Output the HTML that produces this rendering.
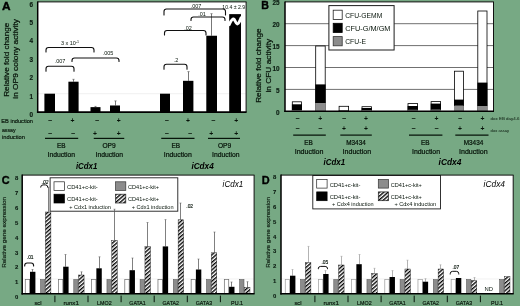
<!DOCTYPE html>
<html><head><meta charset="utf-8"><title>Figure</title>
<style>html,body{margin:0;padding:0;background:#77a984;}body{width:520px;height:306px;overflow:hidden;font-family:"Liberation Sans", sans-serif;}</style>
</head><body>
<svg width="520" height="306" viewBox="0 0 520 306" font-family='"Liberation Sans", sans-serif' style="display:block;filter:blur(0.3px)">
<rect x="0" y="0" width="520" height="306" fill="#77a984"/>
<rect x="37.70" y="1.90" width="208.40" height="110.20" fill="#fff"/>
<line x1="37.70" y1="93.70" x2="246.10" y2="93.70" stroke="#e2e2e2" stroke-width="0.5"/>
<text x="1.90" y="9.60" font-size="10.8" font-weight="bold" font-style="normal" text-anchor="start" fill="#000" textLength="8.60" lengthAdjust="spacingAndGlyphs" stroke="#000" stroke-width="0.35">A</text>
<text x="31.20" y="117.00" font-size="6.4" font-weight="bold" font-style="normal" text-anchor="middle" fill="#0c1c12" stroke="#0c1c12" stroke-width="0.15">0</text>
<text x="31.20" y="98.60" font-size="6.4" font-weight="bold" font-style="normal" text-anchor="middle" fill="#0c1c12" stroke="#0c1c12" stroke-width="0.15">1</text>
<text x="31.20" y="80.20" font-size="6.4" font-weight="bold" font-style="normal" text-anchor="middle" fill="#0c1c12" stroke="#0c1c12" stroke-width="0.15">2</text>
<text x="31.20" y="61.80" font-size="6.4" font-weight="bold" font-style="normal" text-anchor="middle" fill="#0c1c12" stroke="#0c1c12" stroke-width="0.15">3</text>
<text x="31.20" y="43.40" font-size="6.4" font-weight="bold" font-style="normal" text-anchor="middle" fill="#0c1c12" stroke="#0c1c12" stroke-width="0.15">4</text>
<text x="31.20" y="25.00" font-size="6.4" font-weight="bold" font-style="normal" text-anchor="middle" fill="#0c1c12" stroke="#0c1c12" stroke-width="0.15">5</text>
<text x="31.20" y="6.60" font-size="6.4" font-weight="bold" font-style="normal" text-anchor="middle" fill="#0c1c12" stroke="#0c1c12" stroke-width="0.15">6</text>
<text x="8.60" y="96.80" font-size="7.6" font-weight="normal" font-style="normal" text-anchor="start" fill="#07140a" transform="rotate(-90 8.6 96.8)" textLength="74.10" lengthAdjust="spacingAndGlyphs" stroke="#07140a" stroke-width="0.22">Relative fold change</text>
<text x="18.20" y="98.70" font-size="7.6" font-weight="normal" font-style="normal" text-anchor="start" fill="#07140a" transform="rotate(-90 18.2 98.7)" textLength="79.70" lengthAdjust="spacingAndGlyphs" stroke="#07140a" stroke-width="0.22">in OP9 colony activity</text>
<rect x="44.40" y="93.70" width="10.60" height="18.40" fill="#000"/>
<line x1="73.50" y1="79.31" x2="73.50" y2="81.70" stroke="#4a4a4a" stroke-width="0.75"/>
<line x1="72.30" y1="79.31" x2="74.70" y2="79.31" stroke="#4a4a4a" stroke-width="0.5"/>
<rect x="68.40" y="81.70" width="10.20" height="30.40" fill="#000"/>
<line x1="95.50" y1="106.40" x2="95.50" y2="107.13" stroke="#4a4a4a" stroke-width="0.75"/>
<line x1="94.30" y1="106.40" x2="96.70" y2="106.40" stroke="#4a4a4a" stroke-width="0.5"/>
<rect x="90.50" y="107.13" width="10.00" height="4.97" fill="#000"/>
<line x1="115.50" y1="100.88" x2="115.50" y2="105.48" stroke="#4a4a4a" stroke-width="0.75"/>
<line x1="114.30" y1="100.88" x2="116.70" y2="100.88" stroke="#4a4a4a" stroke-width="0.5"/>
<rect x="110.00" y="105.48" width="10.00" height="6.62" fill="#000"/>
<rect x="160.00" y="93.70" width="10.00" height="18.40" fill="#000"/>
<line x1="188.50" y1="71.62" x2="188.50" y2="80.82" stroke="#4a4a4a" stroke-width="0.75"/>
<line x1="187.30" y1="71.62" x2="189.70" y2="71.62" stroke="#4a4a4a" stroke-width="0.5"/>
<rect x="183.00" y="80.82" width="10.40" height="31.28" fill="#000"/>
<line x1="211.50" y1="13.66" x2="211.50" y2="35.74" stroke="#4a4a4a" stroke-width="0.75"/>
<line x1="210.30" y1="13.66" x2="212.70" y2="13.66" stroke="#4a4a4a" stroke-width="0.5"/>
<rect x="206.30" y="35.74" width="10.70" height="76.36" fill="#000"/>
<rect x="229.20" y="14.12" width="11.80" height="97.98" fill="#000"/>
<path d="M228.6 25.6 C230.2 22.6 231.8 18.6 233.6 19.0 C235.2 19.4 235.6 23.8 237.2 23.9 C238.8 24.0 240.0 20.0 241.6 17.0" fill="none" stroke="#fff" stroke-width="3.0"/>
<text x="222.30" y="8.80" font-size="5.0" font-weight="normal" font-style="normal" text-anchor="start" fill="#07140a" textLength="22.90" lengthAdjust="spacingAndGlyphs">10.4 ± 2.9</text>
<path d="M46.00 52.00 V50.00 Q46.00 47.50 48.50 47.50 H91.50 Q94.00 47.50 94.00 50.00 V52.00" fill="none" stroke="#101010" stroke-width="1.1" stroke-linecap="round"/>
<text x="70.00" y="44.60" font-size="5.5" font-weight="normal" font-style="normal" text-anchor="middle" fill="#07140a">3 x 10<tspan font-size="3.6" dy="-1.9">-1</tspan></text>
<path d="M72.00 61.50 V60.50 Q72.00 58.00 74.50 58.00 H116.50 Q119.00 58.00 119.00 60.50 V61.50" fill="none" stroke="#101010" stroke-width="1.1" stroke-linecap="round"/>
<text x="108.00" y="55.00" font-size="5.5" font-weight="normal" font-style="normal" text-anchor="middle" fill="#07140a">.005</text>
<path d="M46.00 71.20 V68.70 Q46.00 66.20 48.50 66.20 H71.50 Q74.00 66.20 74.00 68.70 V71.20" fill="none" stroke="#101010" stroke-width="1.1" stroke-linecap="round"/>
<text x="60.00" y="63.20" font-size="5.5" font-weight="normal" font-style="normal" text-anchor="middle" fill="#07140a">.007</text>
<path d="M164.00 15.00 V11.50 Q164.00 9.00 166.50 9.00 H223.00 Q225.50 9.00 225.50 11.50 V15.00" fill="none" stroke="#101010" stroke-width="1.1" stroke-linecap="round"/>
<text x="196.00" y="7.90" font-size="5.5" font-weight="normal" font-style="normal" text-anchor="middle" fill="#07140a">.007</text>
<path d="M191.00 20.50 V19.50 Q191.00 17.00 193.50 17.00 H222.50 Q225.00 17.00 225.00 19.50 V20.50" fill="none" stroke="#101010" stroke-width="1.1" stroke-linecap="round"/>
<text x="202.00" y="16.30" font-size="5.5" font-weight="normal" font-style="normal" text-anchor="middle" fill="#07140a">.01</text>
<path d="M164.50 35.00 V33.00 Q164.50 30.50 167.00 30.50 H203.50 Q206.00 30.50 206.00 33.00 V35.00" fill="none" stroke="#101010" stroke-width="1.1" stroke-linecap="round"/>
<text x="188.00" y="29.80" font-size="5.5" font-weight="normal" font-style="normal" text-anchor="middle" fill="#07140a">.02</text>
<path d="M164.00 69.20 V66.70 Q164.00 64.20 166.50 64.20 H184.50 Q187.00 64.20 187.00 66.70 V69.20" fill="none" stroke="#101010" stroke-width="1.1" stroke-linecap="round"/>
<text x="176.00" y="62.40" font-size="5.5" font-weight="normal" font-style="normal" text-anchor="middle" fill="#07140a">.2</text>
<text x="1.30" y="122.60" font-size="5.4" font-weight="normal" font-style="normal" text-anchor="start" fill="#07140a" textLength="31.70" lengthAdjust="spacingAndGlyphs" stroke="#07140a" stroke-width="0.16">EB induction</text>
<text x="2.00" y="132.20" font-size="5.4" font-weight="normal" font-style="normal" text-anchor="start" fill="#07140a" textLength="13.50" lengthAdjust="spacingAndGlyphs" stroke="#07140a" stroke-width="0.16">assay</text>
<text x="2.00" y="138.80" font-size="5.4" font-weight="normal" font-style="normal" text-anchor="start" fill="#07140a" textLength="23.00" lengthAdjust="spacingAndGlyphs" stroke="#07140a" stroke-width="0.16">induction</text>
<text x="50.00" y="122.95" font-size="7.2" font-weight="bold" font-style="normal" text-anchor="middle" fill="#07140a">−</text>
<text x="72.50" y="122.80" font-size="6.8" font-weight="bold" font-style="normal" text-anchor="middle" fill="#07140a">+</text>
<text x="97.00" y="122.95" font-size="7.2" font-weight="bold" font-style="normal" text-anchor="middle" fill="#07140a">−</text>
<text x="118.75" y="122.80" font-size="6.8" font-weight="bold" font-style="normal" text-anchor="middle" fill="#07140a">+</text>
<text x="166.75" y="122.95" font-size="7.2" font-weight="bold" font-style="normal" text-anchor="middle" fill="#07140a">−</text>
<text x="188.00" y="122.80" font-size="6.8" font-weight="bold" font-style="normal" text-anchor="middle" fill="#07140a">+</text>
<text x="213.25" y="122.95" font-size="7.2" font-weight="bold" font-style="normal" text-anchor="middle" fill="#07140a">−</text>
<text x="236.25" y="122.80" font-size="6.8" font-weight="bold" font-style="normal" text-anchor="middle" fill="#07140a">+</text>
<text x="50.00" y="136.45" font-size="7.2" font-weight="bold" font-style="normal" text-anchor="middle" fill="#07140a">−</text>
<text x="73.00" y="136.45" font-size="7.2" font-weight="bold" font-style="normal" text-anchor="middle" fill="#07140a">−</text>
<text x="95.00" y="136.30" font-size="6.8" font-weight="bold" font-style="normal" text-anchor="middle" fill="#07140a">+</text>
<text x="118.75" y="136.30" font-size="6.8" font-weight="bold" font-style="normal" text-anchor="middle" fill="#07140a">+</text>
<text x="166.75" y="136.45" font-size="7.2" font-weight="bold" font-style="normal" text-anchor="middle" fill="#07140a">−</text>
<text x="190.00" y="136.45" font-size="7.2" font-weight="bold" font-style="normal" text-anchor="middle" fill="#07140a">−</text>
<text x="211.25" y="136.30" font-size="6.8" font-weight="bold" font-style="normal" text-anchor="middle" fill="#07140a">+</text>
<text x="236.25" y="136.30" font-size="6.8" font-weight="bold" font-style="normal" text-anchor="middle" fill="#07140a">+</text>
<line x1="45.00" y1="138.40" x2="78.20" y2="138.40" stroke="#07140a" stroke-width="1.2"/>
<line x1="93.75" y1="138.40" x2="124.25" y2="138.40" stroke="#07140a" stroke-width="1.2"/>
<line x1="161.25" y1="138.40" x2="194.50" y2="138.40" stroke="#07140a" stroke-width="1.2"/>
<line x1="208.00" y1="138.40" x2="240.00" y2="138.40" stroke="#07140a" stroke-width="1.2"/>
<text x="56.95" y="147.50" font-size="6.7" font-weight="normal" font-style="normal" text-anchor="start" fill="#07140a" textLength="8.60" lengthAdjust="spacingAndGlyphs" stroke="#07140a" stroke-width="0.22">EB</text>
<text x="102.40" y="147.50" font-size="6.7" font-weight="normal" font-style="normal" text-anchor="start" fill="#07140a" textLength="13.20" lengthAdjust="spacingAndGlyphs" stroke="#07140a" stroke-width="0.22">OP9</text>
<text x="171.45" y="147.50" font-size="6.7" font-weight="normal" font-style="normal" text-anchor="start" fill="#07140a" textLength="8.60" lengthAdjust="spacingAndGlyphs" stroke="#07140a" stroke-width="0.22">EB</text>
<text x="217.90" y="147.50" font-size="6.7" font-weight="normal" font-style="normal" text-anchor="start" fill="#07140a" textLength="13.20" lengthAdjust="spacingAndGlyphs" stroke="#07140a" stroke-width="0.22">OP9</text>
<text x="47.50" y="157.20" font-size="6.9" font-weight="normal" font-style="normal" text-anchor="start" fill="#07140a" textLength="27.50" lengthAdjust="spacingAndGlyphs" stroke="#07140a" stroke-width="0.22">Induction</text>
<text x="95.50" y="157.20" font-size="6.9" font-weight="normal" font-style="normal" text-anchor="start" fill="#07140a" textLength="27.50" lengthAdjust="spacingAndGlyphs" stroke="#07140a" stroke-width="0.22">Induction</text>
<text x="163.75" y="157.20" font-size="6.9" font-weight="normal" font-style="normal" text-anchor="start" fill="#07140a" textLength="28.00" lengthAdjust="spacingAndGlyphs" stroke="#07140a" stroke-width="0.22">Induction</text>
<text x="212.00" y="157.20" font-size="6.9" font-weight="normal" font-style="normal" text-anchor="start" fill="#07140a" textLength="27.50" lengthAdjust="spacingAndGlyphs" stroke="#07140a" stroke-width="0.22">Induction</text>
<text x="75.90" y="168.60" font-size="9.4" font-weight="bold" font-style="italic" text-anchor="start" fill="#000" textLength="21.50" lengthAdjust="spacingAndGlyphs">iCdx1</text>
<text x="191.40" y="168.60" font-size="9.4" font-weight="bold" font-style="italic" text-anchor="start" fill="#000" textLength="22.30" lengthAdjust="spacingAndGlyphs">iCdx4</text>
<rect x="285.00" y="1.90" width="208.50" height="109.40" fill="#fff"/>
<line x1="285.00" y1="89.40" x2="493.50" y2="89.40" stroke="#707070" stroke-width="1.0"/>
<line x1="285.00" y1="67.50" x2="493.50" y2="67.50" stroke="#707070" stroke-width="1.0"/>
<line x1="285.00" y1="45.60" x2="493.50" y2="45.60" stroke="#707070" stroke-width="1.0"/>
<line x1="285.00" y1="23.70" x2="493.50" y2="23.70" stroke="#707070" stroke-width="1.0"/>
<text x="261.30" y="9.20" font-size="10.8" font-weight="bold" font-style="normal" text-anchor="start" fill="#000" textLength="7.70" lengthAdjust="spacingAndGlyphs" stroke="#000" stroke-width="0.35">B</text>
<text x="279.50" y="114.90" font-size="6.4" font-weight="bold" font-style="normal" text-anchor="end" fill="#0c1c12" stroke="#0c1c12" stroke-width="0.15">0</text>
<text x="279.50" y="93.00" font-size="6.4" font-weight="bold" font-style="normal" text-anchor="end" fill="#0c1c12" stroke="#0c1c12" stroke-width="0.15">5</text>
<text x="279.50" y="71.10" font-size="6.4" font-weight="bold" font-style="normal" text-anchor="end" fill="#0c1c12" stroke="#0c1c12" stroke-width="0.15">10</text>
<text x="279.50" y="49.20" font-size="6.4" font-weight="bold" font-style="normal" text-anchor="end" fill="#0c1c12" stroke="#0c1c12" stroke-width="0.15">15</text>
<text x="279.50" y="27.30" font-size="6.4" font-weight="bold" font-style="normal" text-anchor="end" fill="#0c1c12" stroke="#0c1c12" stroke-width="0.15">20</text>
<text x="279.50" y="5.40" font-size="6.4" font-weight="bold" font-style="normal" text-anchor="end" fill="#0c1c12" stroke="#0c1c12" stroke-width="0.15">25</text>
<text x="260.90" y="102.80" font-size="7.6" font-weight="normal" font-style="normal" text-anchor="start" fill="#07140a" transform="rotate(-90 260.9 102.8)" textLength="74.40" lengthAdjust="spacingAndGlyphs" stroke="#07140a" stroke-width="0.22">Relative fold change</text>
<text x="271.50" y="92.60" font-size="7.6" font-weight="normal" font-style="normal" text-anchor="start" fill="#07140a" transform="rotate(-90 271.5 92.6)" textLength="53.80" lengthAdjust="spacingAndGlyphs" stroke="#07140a" stroke-width="0.22">in CFU activity</text>
<rect x="292.30" y="101.80" width="9.30" height="9.50" fill="#fff" stroke="#000" stroke-width="0.8"/>
<rect x="291.90" y="104.30" width="10.10" height="5.70" fill="#000"/>
<rect x="291.90" y="110.00" width="10.10" height="1.30" fill="#8c8c8c"/>
<rect x="315.70" y="46.00" width="9.50" height="65.30" fill="#fff" stroke="#000" stroke-width="0.8"/>
<rect x="315.30" y="84.40" width="10.30" height="18.60" fill="#000"/>
<rect x="315.30" y="103.00" width="10.30" height="8.30" fill="#8c8c8c"/>
<rect x="339.10" y="106.30" width="9.50" height="5.00" fill="#fff" stroke="#000" stroke-width="0.8"/>
<rect x="338.70" y="110.40" width="10.30" height="0.50" fill="#000"/>
<rect x="338.70" y="110.90" width="10.30" height="0.40" fill="#8c8c8c"/>
<rect x="362.00" y="106.70" width="9.40" height="4.60" fill="#fff" stroke="#000" stroke-width="0.8"/>
<rect x="361.60" y="108.00" width="10.20" height="2.20" fill="#000"/>
<rect x="361.60" y="110.20" width="10.20" height="1.10" fill="#8c8c8c"/>
<rect x="408.00" y="103.60" width="9.60" height="7.70" fill="#fff" stroke="#000" stroke-width="0.8"/>
<rect x="407.60" y="106.00" width="10.40" height="3.90" fill="#000"/>
<rect x="407.60" y="109.90" width="10.40" height="1.40" fill="#8c8c8c"/>
<rect x="431.10" y="101.60" width="9.50" height="9.70" fill="#fff" stroke="#000" stroke-width="0.8"/>
<rect x="430.70" y="103.60" width="10.30" height="6.20" fill="#000"/>
<rect x="430.70" y="109.80" width="10.30" height="1.50" fill="#8c8c8c"/>
<rect x="454.40" y="71.20" width="9.00" height="40.10" fill="#fff" stroke="#000" stroke-width="0.8"/>
<rect x="454.00" y="99.60" width="9.80" height="6.20" fill="#000"/>
<rect x="454.00" y="105.80" width="9.80" height="5.50" fill="#8c8c8c"/>
<rect x="477.80" y="11.00" width="9.20" height="100.30" fill="#fff" stroke="#000" stroke-width="0.8"/>
<rect x="477.40" y="82.60" width="10.00" height="23.40" fill="#000"/>
<rect x="477.40" y="106.00" width="10.00" height="5.30" fill="#8c8c8c"/>
<rect x="328.90" y="5.60" width="65.20" height="44.40" fill="#fff" stroke="#1c1c1c" stroke-width="1.0"/>
<rect x="333.20" y="10.20" width="9.00" height="9.20" fill="#fff" stroke="#222" stroke-width="0.8"/>
<text x="345.20" y="17.70" font-size="6.5" font-weight="normal" font-style="normal" text-anchor="start" fill="#07140a" textLength="37.10" lengthAdjust="spacingAndGlyphs">CFU-GEMM</text>
<rect x="333.20" y="23.30" width="9.00" height="9.20" fill="#000" stroke="#000" stroke-width="0.8"/>
<text x="345.20" y="31.00" font-size="6.5" font-weight="normal" font-style="normal" text-anchor="start" fill="#07140a" textLength="45.30" lengthAdjust="spacingAndGlyphs">CFU-G/M/GM</text>
<rect x="333.20" y="36.60" width="9.00" height="9.20" fill="#8c8c8c" stroke="#333" stroke-width="0.8"/>
<text x="345.20" y="44.30" font-size="6.5" font-weight="normal" font-style="normal" text-anchor="start" fill="#07140a" textLength="20.80" lengthAdjust="spacingAndGlyphs">CFU-E</text>
<text x="297.60" y="121.15" font-size="7.2" font-weight="bold" font-style="normal" text-anchor="middle" fill="#07140a">−</text>
<text x="320.30" y="121.00" font-size="6.8" font-weight="bold" font-style="normal" text-anchor="middle" fill="#07140a">+</text>
<text x="344.00" y="121.15" font-size="7.2" font-weight="bold" font-style="normal" text-anchor="middle" fill="#07140a">−</text>
<text x="365.90" y="121.00" font-size="6.8" font-weight="bold" font-style="normal" text-anchor="middle" fill="#07140a">+</text>
<text x="413.50" y="121.15" font-size="7.2" font-weight="bold" font-style="normal" text-anchor="middle" fill="#07140a">−</text>
<text x="436.50" y="121.00" font-size="6.8" font-weight="bold" font-style="normal" text-anchor="middle" fill="#07140a">+</text>
<text x="460.00" y="121.15" font-size="7.2" font-weight="bold" font-style="normal" text-anchor="middle" fill="#07140a">−</text>
<text x="482.60" y="121.00" font-size="6.8" font-weight="bold" font-style="normal" text-anchor="middle" fill="#07140a">+</text>
<text x="297.60" y="130.65" font-size="7.2" font-weight="bold" font-style="normal" text-anchor="middle" fill="#07140a">−</text>
<text x="320.30" y="130.65" font-size="7.2" font-weight="bold" font-style="normal" text-anchor="middle" fill="#07140a">−</text>
<text x="344.00" y="130.50" font-size="6.8" font-weight="bold" font-style="normal" text-anchor="middle" fill="#07140a">+</text>
<text x="365.90" y="130.50" font-size="6.8" font-weight="bold" font-style="normal" text-anchor="middle" fill="#07140a">+</text>
<text x="413.50" y="130.65" font-size="7.2" font-weight="bold" font-style="normal" text-anchor="middle" fill="#07140a">−</text>
<text x="436.50" y="130.65" font-size="7.2" font-weight="bold" font-style="normal" text-anchor="middle" fill="#07140a">−</text>
<text x="460.00" y="130.50" font-size="6.8" font-weight="bold" font-style="normal" text-anchor="middle" fill="#07140a">+</text>
<text x="482.60" y="130.50" font-size="6.8" font-weight="bold" font-style="normal" text-anchor="middle" fill="#07140a">+</text>
<text x="490.60" y="120.40" font-size="4.4" font-weight="normal" font-style="normal" text-anchor="start" fill="#07140a" textLength="29.00" lengthAdjust="spacingAndGlyphs">dox EB day4-6</text>
<text x="490.60" y="132.00" font-size="4.4" font-weight="normal" font-style="normal" text-anchor="start" fill="#07140a" textLength="18.60" lengthAdjust="spacingAndGlyphs">dox assay</text>
<line x1="293.20" y1="135.10" x2="325.80" y2="135.10" stroke="#07140a" stroke-width="1.2"/>
<line x1="340.30" y1="135.10" x2="371.80" y2="135.10" stroke="#07140a" stroke-width="1.2"/>
<line x1="409.00" y1="135.10" x2="442.40" y2="135.10" stroke="#07140a" stroke-width="1.2"/>
<line x1="455.30" y1="135.10" x2="488.50" y2="135.10" stroke="#07140a" stroke-width="1.2"/>
<text x="304.20" y="144.80" font-size="6.7" font-weight="normal" font-style="normal" text-anchor="start" fill="#07140a" textLength="8.60" lengthAdjust="spacingAndGlyphs" stroke="#07140a" stroke-width="0.22">EB</text>
<text x="346.25" y="144.80" font-size="6.7" font-weight="normal" font-style="normal" text-anchor="start" fill="#07140a" textLength="19.50" lengthAdjust="spacingAndGlyphs" stroke="#07140a" stroke-width="0.22">M3434</text>
<text x="421.00" y="144.80" font-size="6.7" font-weight="normal" font-style="normal" text-anchor="start" fill="#07140a" textLength="8.60" lengthAdjust="spacingAndGlyphs" stroke="#07140a" stroke-width="0.22">EB</text>
<text x="463.75" y="144.80" font-size="6.7" font-weight="normal" font-style="normal" text-anchor="start" fill="#07140a" textLength="19.50" lengthAdjust="spacingAndGlyphs" stroke="#07140a" stroke-width="0.22">M3434</text>
<text x="294.70" y="153.60" font-size="6.9" font-weight="normal" font-style="normal" text-anchor="start" fill="#07140a" textLength="28.80" lengthAdjust="spacingAndGlyphs" stroke="#07140a" stroke-width="0.22">Induction</text>
<text x="342.60" y="153.60" font-size="6.9" font-weight="normal" font-style="normal" text-anchor="start" fill="#07140a" textLength="28.60" lengthAdjust="spacingAndGlyphs" stroke="#07140a" stroke-width="0.22">Induction</text>
<text x="412.00" y="153.60" font-size="6.9" font-weight="normal" font-style="normal" text-anchor="start" fill="#07140a" textLength="28.00" lengthAdjust="spacingAndGlyphs" stroke="#07140a" stroke-width="0.22">Induction</text>
<text x="459.00" y="153.60" font-size="6.9" font-weight="normal" font-style="normal" text-anchor="start" fill="#07140a" textLength="28.60" lengthAdjust="spacingAndGlyphs" stroke="#07140a" stroke-width="0.22">Induction</text>
<text x="323.60" y="164.60" font-size="9.4" font-weight="bold" font-style="italic" text-anchor="start" fill="#000" textLength="21.60" lengthAdjust="spacingAndGlyphs">iCdx1</text>
<text x="438.60" y="164.60" font-size="9.4" font-weight="bold" font-style="italic" text-anchor="start" fill="#000" textLength="22.80" lengthAdjust="spacingAndGlyphs">iCdx4</text>
<defs><pattern id="h" width="2.85" height="2.85" patternUnits="userSpaceOnUse" patternTransform="rotate(-41)"><rect width="2.85" height="2.85" fill="#fff"/><rect width="2.85" height="1.38" fill="#000"/></pattern></defs>
<rect x="22.20" y="175.10" width="231.90" height="118.70" fill="#fff"/>
<line x1="22.20" y1="278.96" x2="254.10" y2="278.96" stroke="#e6e6e6" stroke-width="0.5"/>
<text x="1.80" y="183.60" font-size="10.8" font-weight="bold" font-style="normal" text-anchor="start" fill="#000" textLength="7.90" lengthAdjust="spacingAndGlyphs" stroke="#000" stroke-width="0.35">C</text>
<text x="16.60" y="299.10" font-size="5.9" font-weight="bold" font-style="normal" text-anchor="middle" fill="#0c1c12" stroke="#0c1c12" stroke-width="0.12">0</text>
<text x="16.60" y="284.26" font-size="5.9" font-weight="bold" font-style="normal" text-anchor="middle" fill="#0c1c12" stroke="#0c1c12" stroke-width="0.12">1</text>
<text x="16.60" y="269.43" font-size="5.9" font-weight="bold" font-style="normal" text-anchor="middle" fill="#0c1c12" stroke="#0c1c12" stroke-width="0.12">2</text>
<text x="16.60" y="254.59" font-size="5.9" font-weight="bold" font-style="normal" text-anchor="middle" fill="#0c1c12" stroke="#0c1c12" stroke-width="0.12">3</text>
<text x="16.60" y="239.75" font-size="5.9" font-weight="bold" font-style="normal" text-anchor="middle" fill="#0c1c12" stroke="#0c1c12" stroke-width="0.12">4</text>
<text x="16.60" y="224.91" font-size="5.9" font-weight="bold" font-style="normal" text-anchor="middle" fill="#0c1c12" stroke="#0c1c12" stroke-width="0.12">5</text>
<text x="16.60" y="210.08" font-size="5.9" font-weight="bold" font-style="normal" text-anchor="middle" fill="#0c1c12" stroke="#0c1c12" stroke-width="0.12">6</text>
<text x="16.60" y="195.24" font-size="5.9" font-weight="bold" font-style="normal" text-anchor="middle" fill="#0c1c12" stroke="#0c1c12" stroke-width="0.12">7</text>
<text x="16.60" y="180.40" font-size="5.9" font-weight="bold" font-style="normal" text-anchor="middle" fill="#0c1c12" stroke="#0c1c12" stroke-width="0.12">8</text>
<text x="5.90" y="267.80" font-size="5.9" font-weight="normal" font-style="normal" text-anchor="start" fill="#07140a" transform="rotate(-90 5.9 267.8)" textLength="70.90" lengthAdjust="spacingAndGlyphs" stroke="#07140a" stroke-width="0.14">Relative gene expression</text>
<rect x="50.10" y="177.80" width="127.70" height="33.40" fill="#fff" stroke="#1c1c1c" stroke-width="0.9"/>
<rect x="54.00" y="181.80" width="10.40" height="8.60" fill="#fff" stroke="#222" stroke-width="0.7"/>
<rect x="54.00" y="194.20" width="10.40" height="8.80" fill="#000" stroke="#000" stroke-width="0.7"/>
<rect x="115.60" y="181.80" width="10.20" height="8.60" fill="#8c8c8c" stroke="#333" stroke-width="0.7"/>
<rect x="115.60" y="194.20" width="10.20" height="8.80" fill="url(#h)" stroke="#222" stroke-width="0.7"/>
<text x="67.00" y="189.00" font-size="5.6" font-weight="normal" font-style="normal" text-anchor="start" fill="#07140a" textLength="30.70" lengthAdjust="spacingAndGlyphs">CD41+c-kit-</text>
<text x="67.00" y="201.30" font-size="5.6" font-weight="normal" font-style="normal" text-anchor="start" fill="#07140a" textLength="30.70" lengthAdjust="spacingAndGlyphs">CD41+c-kit-</text>
<text x="69.30" y="208.70" font-size="5.6" font-weight="normal" font-style="normal" text-anchor="start" fill="#07140a" textLength="41.60" lengthAdjust="spacingAndGlyphs">+ Cdx1 induction</text>
<text x="128.10" y="189.00" font-size="5.6" font-weight="normal" font-style="normal" text-anchor="start" fill="#07140a" textLength="30.90" lengthAdjust="spacingAndGlyphs">CD41+c-kit+</text>
<text x="128.10" y="201.30" font-size="5.6" font-weight="normal" font-style="normal" text-anchor="start" fill="#07140a" textLength="30.90" lengthAdjust="spacingAndGlyphs">CD41+c-kit+</text>
<text x="131.70" y="208.70" font-size="5.6" font-weight="normal" font-style="normal" text-anchor="start" fill="#07140a" textLength="41.80" lengthAdjust="spacingAndGlyphs">+ Cdx1 induction</text>
<rect x="25.25" y="279.65" width="4.40" height="14.15" fill="#fff" stroke="#6a6a6a" stroke-width="0.7"/>
<line x1="32.50" y1="269.50" x2="32.50" y2="271.80" stroke="#555" stroke-width="0.75"/>
<line x1="31.50" y1="269.50" x2="33.50" y2="269.50" stroke="#555" stroke-width="0.5"/>
<rect x="30.00" y="271.80" width="5.40" height="22.00" fill="#000"/>
<rect x="40.60" y="279.60" width="4.30" height="14.20" fill="#8c8c8c" stroke="#5a5a5a" stroke-width="0.6"/>
<line x1="48.50" y1="187.20" x2="48.50" y2="211.80" stroke="#555" stroke-width="0.75"/>
<line x1="47.50" y1="187.20" x2="49.50" y2="187.20" stroke="#555" stroke-width="0.5"/>
<rect x="45.40" y="212.00" width="5.50" height="81.80" fill="url(#h)" stroke="#111" stroke-width="0.4"/>
<text x="34.50" y="304.90" font-size="6.0" font-weight="normal" font-style="normal" text-anchor="start" fill="#07140a" textLength="7.00" lengthAdjust="spacingAndGlyphs" stroke="#07140a" stroke-width="0.18">scl</text>
<rect x="58.43" y="279.65" width="4.40" height="14.15" fill="#fff" stroke="#6a6a6a" stroke-width="0.7"/>
<line x1="65.50" y1="254.50" x2="65.50" y2="266.70" stroke="#555" stroke-width="0.75"/>
<line x1="64.50" y1="254.50" x2="66.50" y2="254.50" stroke="#555" stroke-width="0.5"/>
<rect x="63.18" y="266.70" width="5.40" height="27.10" fill="#000"/>
<rect x="73.78" y="279.60" width="4.30" height="14.20" fill="#8c8c8c" stroke="#5a5a5a" stroke-width="0.6"/>
<line x1="81.50" y1="271.80" x2="81.50" y2="274.80" stroke="#555" stroke-width="0.75"/>
<line x1="80.50" y1="271.80" x2="82.50" y2="271.80" stroke="#555" stroke-width="0.5"/>
<rect x="78.58" y="275.00" width="5.50" height="18.80" fill="url(#h)" stroke="#111" stroke-width="0.4"/>
<line x1="54.90" y1="295.60" x2="54.90" y2="302.20" stroke="#07140a" stroke-width="1.0"/>
<text x="63.48" y="304.90" font-size="6.0" font-weight="normal" font-style="normal" text-anchor="start" fill="#07140a" textLength="15.40" lengthAdjust="spacingAndGlyphs" stroke="#07140a" stroke-width="0.18">runx1</text>
<rect x="91.61" y="279.65" width="4.40" height="14.15" fill="#fff" stroke="#6a6a6a" stroke-width="0.7"/>
<line x1="99.50" y1="256.80" x2="99.50" y2="268.30" stroke="#555" stroke-width="0.75"/>
<line x1="98.50" y1="256.80" x2="100.50" y2="256.80" stroke="#555" stroke-width="0.5"/>
<rect x="96.36" y="268.30" width="5.40" height="25.50" fill="#000"/>
<rect x="106.96" y="279.60" width="4.30" height="14.20" fill="#8c8c8c" stroke="#5a5a5a" stroke-width="0.6"/>
<line x1="114.50" y1="209.20" x2="114.50" y2="240.20" stroke="#555" stroke-width="0.75"/>
<line x1="113.50" y1="209.20" x2="115.50" y2="209.20" stroke="#555" stroke-width="0.5"/>
<rect x="111.76" y="240.40" width="5.50" height="53.40" fill="url(#h)" stroke="#111" stroke-width="0.4"/>
<line x1="88.00" y1="295.60" x2="88.00" y2="302.20" stroke="#07140a" stroke-width="1.0"/>
<text x="97.06" y="304.90" font-size="6.0" font-weight="normal" font-style="normal" text-anchor="start" fill="#07140a" textLength="14.60" lengthAdjust="spacingAndGlyphs" stroke="#07140a" stroke-width="0.18">LMO2</text>
<rect x="124.79" y="279.65" width="4.40" height="14.15" fill="#fff" stroke="#6a6a6a" stroke-width="0.7"/>
<line x1="132.50" y1="258.00" x2="132.50" y2="270.20" stroke="#555" stroke-width="0.75"/>
<line x1="131.50" y1="258.00" x2="133.50" y2="258.00" stroke="#555" stroke-width="0.5"/>
<rect x="129.54" y="270.20" width="5.40" height="23.60" fill="#000"/>
<rect x="140.14" y="279.60" width="4.30" height="14.20" fill="#8c8c8c" stroke="#5a5a5a" stroke-width="0.6"/>
<line x1="147.50" y1="222.50" x2="147.50" y2="246.40" stroke="#555" stroke-width="0.75"/>
<line x1="146.50" y1="222.50" x2="148.50" y2="222.50" stroke="#555" stroke-width="0.5"/>
<rect x="144.94" y="246.60" width="5.50" height="47.20" fill="url(#h)" stroke="#111" stroke-width="0.4"/>
<line x1="121.10" y1="295.60" x2="121.10" y2="302.20" stroke="#07140a" stroke-width="1.0"/>
<text x="129.34" y="304.90" font-size="6.0" font-weight="normal" font-style="normal" text-anchor="start" fill="#07140a" textLength="16.40" lengthAdjust="spacingAndGlyphs" stroke="#07140a" stroke-width="0.18">GATA1</text>
<rect x="157.97" y="279.65" width="4.40" height="14.15" fill="#fff" stroke="#6a6a6a" stroke-width="0.7"/>
<line x1="165.50" y1="219.60" x2="165.50" y2="246.40" stroke="#555" stroke-width="0.75"/>
<line x1="164.50" y1="219.60" x2="166.50" y2="219.60" stroke="#555" stroke-width="0.5"/>
<rect x="162.72" y="246.40" width="5.40" height="47.40" fill="#000"/>
<rect x="173.32" y="279.60" width="4.30" height="14.20" fill="#8c8c8c" stroke="#5a5a5a" stroke-width="0.6"/>
<line x1="180.50" y1="203.00" x2="180.50" y2="219.60" stroke="#555" stroke-width="0.75"/>
<line x1="179.50" y1="203.00" x2="181.50" y2="203.00" stroke="#555" stroke-width="0.5"/>
<rect x="178.12" y="219.80" width="5.50" height="74.00" fill="url(#h)" stroke="#111" stroke-width="0.4"/>
<line x1="154.20" y1="295.60" x2="154.20" y2="302.20" stroke="#07140a" stroke-width="1.0"/>
<text x="162.52" y="304.90" font-size="6.0" font-weight="normal" font-style="normal" text-anchor="start" fill="#07140a" textLength="16.40" lengthAdjust="spacingAndGlyphs" stroke="#07140a" stroke-width="0.18">GATA2</text>
<rect x="191.15" y="279.65" width="4.40" height="14.15" fill="#fff" stroke="#6a6a6a" stroke-width="0.7"/>
<line x1="198.50" y1="259.00" x2="198.50" y2="269.50" stroke="#555" stroke-width="0.75"/>
<line x1="197.50" y1="259.00" x2="199.50" y2="259.00" stroke="#555" stroke-width="0.5"/>
<rect x="195.90" y="269.50" width="5.40" height="24.30" fill="#000"/>
<rect x="206.50" y="279.60" width="4.30" height="14.20" fill="#8c8c8c" stroke="#5a5a5a" stroke-width="0.6"/>
<line x1="214.50" y1="232.00" x2="214.50" y2="252.60" stroke="#555" stroke-width="0.75"/>
<line x1="213.50" y1="232.00" x2="215.50" y2="232.00" stroke="#555" stroke-width="0.5"/>
<rect x="211.30" y="252.80" width="5.50" height="41.00" fill="url(#h)" stroke="#111" stroke-width="0.4"/>
<line x1="187.30" y1="295.60" x2="187.30" y2="302.20" stroke="#07140a" stroke-width="1.0"/>
<text x="195.70" y="304.90" font-size="6.0" font-weight="normal" font-style="normal" text-anchor="start" fill="#07140a" textLength="16.40" lengthAdjust="spacingAndGlyphs" stroke="#07140a" stroke-width="0.18">GATA3</text>
<rect x="224.33" y="279.65" width="4.40" height="14.15" fill="#fff" stroke="#6a6a6a" stroke-width="0.7"/>
<line x1="231.50" y1="282.00" x2="231.50" y2="286.80" stroke="#555" stroke-width="0.75"/>
<line x1="230.50" y1="282.00" x2="232.50" y2="282.00" stroke="#555" stroke-width="0.5"/>
<rect x="229.08" y="286.80" width="5.40" height="7.00" fill="#000"/>
<rect x="239.68" y="279.60" width="4.30" height="14.20" fill="#8c8c8c" stroke="#5a5a5a" stroke-width="0.6"/>
<line x1="247.50" y1="281.70" x2="247.50" y2="287.20" stroke="#555" stroke-width="0.75"/>
<line x1="246.50" y1="281.70" x2="248.50" y2="281.70" stroke="#555" stroke-width="0.5"/>
<rect x="244.48" y="287.40" width="5.50" height="6.40" fill="url(#h)" stroke="#111" stroke-width="0.4"/>
<line x1="220.40" y1="295.60" x2="220.40" y2="302.20" stroke="#07140a" stroke-width="1.0"/>
<text x="231.08" y="304.90" font-size="6.0" font-weight="normal" font-style="normal" text-anchor="start" fill="#07140a" textLength="12.00" lengthAdjust="spacingAndGlyphs" stroke="#07140a" stroke-width="0.18">PU.1</text>
<text x="222.60" y="186.60" font-size="8.4" font-weight="normal" font-style="italic" text-anchor="start" fill="#000" textLength="20.60" lengthAdjust="spacingAndGlyphs">iCdx1</text>
<line x1="22.20" y1="175.10" x2="254.50" y2="175.10" stroke="#111" stroke-width="1.0"/>
<line x1="254.10" y1="175.10" x2="254.10" y2="293.80" stroke="#111" stroke-width="1.0"/>
<line x1="22.20" y1="174.60" x2="22.20" y2="294.60" stroke="#000" stroke-width="1.5"/>
<line x1="21.45" y1="293.80" x2="254.60" y2="293.80" stroke="#000" stroke-width="1.6"/>
<rect x="281.00" y="175.10" width="232.20" height="118.70" fill="#fff"/>
<line x1="281.00" y1="278.96" x2="513.20" y2="278.96" stroke="#e6e6e6" stroke-width="0.5"/>
<text x="261.80" y="183.60" font-size="10.8" font-weight="bold" font-style="normal" text-anchor="start" fill="#000" textLength="7.90" lengthAdjust="spacingAndGlyphs" stroke="#000" stroke-width="0.35">D</text>
<text x="274.60" y="297.90" font-size="5.9" font-weight="bold" font-style="normal" text-anchor="middle" fill="#0c1c12" stroke="#0c1c12" stroke-width="0.12">0</text>
<text x="274.60" y="283.06" font-size="5.9" font-weight="bold" font-style="normal" text-anchor="middle" fill="#0c1c12" stroke="#0c1c12" stroke-width="0.12">1</text>
<text x="274.60" y="268.23" font-size="5.9" font-weight="bold" font-style="normal" text-anchor="middle" fill="#0c1c12" stroke="#0c1c12" stroke-width="0.12">2</text>
<text x="274.60" y="253.39" font-size="5.9" font-weight="bold" font-style="normal" text-anchor="middle" fill="#0c1c12" stroke="#0c1c12" stroke-width="0.12">3</text>
<text x="274.60" y="238.55" font-size="5.9" font-weight="bold" font-style="normal" text-anchor="middle" fill="#0c1c12" stroke="#0c1c12" stroke-width="0.12">4</text>
<text x="274.60" y="223.71" font-size="5.9" font-weight="bold" font-style="normal" text-anchor="middle" fill="#0c1c12" stroke="#0c1c12" stroke-width="0.12">5</text>
<text x="274.60" y="208.88" font-size="5.9" font-weight="bold" font-style="normal" text-anchor="middle" fill="#0c1c12" stroke="#0c1c12" stroke-width="0.12">6</text>
<text x="274.60" y="194.04" font-size="5.9" font-weight="bold" font-style="normal" text-anchor="middle" fill="#0c1c12" stroke="#0c1c12" stroke-width="0.12">7</text>
<text x="274.60" y="179.20" font-size="5.9" font-weight="bold" font-style="normal" text-anchor="middle" fill="#0c1c12" stroke="#0c1c12" stroke-width="0.12">8</text>
<text x="270.20" y="267.80" font-size="5.9" font-weight="normal" font-style="normal" text-anchor="start" fill="#07140a" transform="rotate(-90 270.2 267.8)" textLength="70.90" lengthAdjust="spacingAndGlyphs" stroke="#07140a" stroke-width="0.14">Relative gene expression</text>
<rect x="312.80" y="175.50" width="127.70" height="33.40" fill="#fff" stroke="#1c1c1c" stroke-width="0.9"/>
<rect x="316.70" y="179.50" width="10.40" height="8.60" fill="#fff" stroke="#222" stroke-width="0.7"/>
<rect x="316.70" y="191.90" width="10.40" height="8.80" fill="#000" stroke="#000" stroke-width="0.7"/>
<rect x="378.30" y="179.50" width="10.20" height="8.60" fill="#8c8c8c" stroke="#333" stroke-width="0.7"/>
<rect x="378.30" y="191.90" width="10.20" height="8.80" fill="url(#h)" stroke="#222" stroke-width="0.7"/>
<text x="329.70" y="186.70" font-size="5.6" font-weight="normal" font-style="normal" text-anchor="start" fill="#07140a" textLength="30.70" lengthAdjust="spacingAndGlyphs">CD41+c-kit-</text>
<text x="329.70" y="199.00" font-size="5.6" font-weight="normal" font-style="normal" text-anchor="start" fill="#07140a" textLength="30.70" lengthAdjust="spacingAndGlyphs">CD41+c-kit-</text>
<text x="332.00" y="206.40" font-size="5.6" font-weight="normal" font-style="normal" text-anchor="start" fill="#07140a" textLength="41.60" lengthAdjust="spacingAndGlyphs">+ Cdx4 induction</text>
<text x="390.80" y="186.70" font-size="5.6" font-weight="normal" font-style="normal" text-anchor="start" fill="#07140a" textLength="30.90" lengthAdjust="spacingAndGlyphs">CD41+c-kit+</text>
<text x="390.80" y="199.00" font-size="5.6" font-weight="normal" font-style="normal" text-anchor="start" fill="#07140a" textLength="30.90" lengthAdjust="spacingAndGlyphs">CD41+c-kit+</text>
<text x="394.40" y="206.40" font-size="5.6" font-weight="normal" font-style="normal" text-anchor="start" fill="#07140a" textLength="41.80" lengthAdjust="spacingAndGlyphs">+ Cdx4 induction</text>
<rect x="285.25" y="279.65" width="4.40" height="14.15" fill="#fff" stroke="#9a9a9a" stroke-width="0.7"/>
<line x1="292.50" y1="269.50" x2="292.50" y2="275.70" stroke="#999" stroke-width="0.75"/>
<line x1="291.50" y1="269.50" x2="293.50" y2="269.50" stroke="#999" stroke-width="0.5"/>
<rect x="290.00" y="275.70" width="5.40" height="18.10" fill="#000"/>
<rect x="300.60" y="279.60" width="4.30" height="14.20" fill="#8c8c8c" stroke="#5a5a5a" stroke-width="0.6"/>
<line x1="308.50" y1="246.40" x2="308.50" y2="262.50" stroke="#999" stroke-width="0.75"/>
<line x1="307.50" y1="246.40" x2="309.50" y2="246.40" stroke="#999" stroke-width="0.5"/>
<rect x="305.40" y="262.70" width="5.50" height="31.10" fill="url(#h)" stroke="#111" stroke-width="0.4"/>
<text x="294.50" y="304.90" font-size="6.0" font-weight="normal" font-style="normal" text-anchor="start" fill="#07140a" textLength="7.00" lengthAdjust="spacingAndGlyphs" stroke="#07140a" stroke-width="0.18">scl</text>
<rect x="318.43" y="279.65" width="4.40" height="14.15" fill="#fff" stroke="#9a9a9a" stroke-width="0.7"/>
<line x1="325.50" y1="270.60" x2="325.50" y2="274.00" stroke="#999" stroke-width="0.75"/>
<line x1="324.50" y1="270.60" x2="326.50" y2="270.60" stroke="#999" stroke-width="0.5"/>
<rect x="323.18" y="274.00" width="5.40" height="19.80" fill="#000"/>
<rect x="333.78" y="279.60" width="4.30" height="14.20" fill="#8c8c8c" stroke="#5a5a5a" stroke-width="0.6"/>
<line x1="341.50" y1="256.30" x2="341.50" y2="264.80" stroke="#999" stroke-width="0.75"/>
<line x1="340.50" y1="256.30" x2="342.50" y2="256.30" stroke="#999" stroke-width="0.5"/>
<rect x="338.58" y="265.00" width="5.50" height="28.80" fill="url(#h)" stroke="#111" stroke-width="0.4"/>
<line x1="314.90" y1="295.60" x2="314.90" y2="302.20" stroke="#07140a" stroke-width="1.0"/>
<text x="323.48" y="304.90" font-size="6.0" font-weight="normal" font-style="normal" text-anchor="start" fill="#07140a" textLength="15.40" lengthAdjust="spacingAndGlyphs" stroke="#07140a" stroke-width="0.18">runx1</text>
<rect x="351.61" y="279.65" width="4.40" height="14.15" fill="#fff" stroke="#9a9a9a" stroke-width="0.7"/>
<line x1="359.50" y1="254.50" x2="359.50" y2="264.20" stroke="#999" stroke-width="0.75"/>
<line x1="358.50" y1="254.50" x2="360.50" y2="254.50" stroke="#999" stroke-width="0.5"/>
<rect x="356.36" y="264.20" width="5.40" height="29.60" fill="#000"/>
<rect x="366.96" y="279.60" width="4.30" height="14.20" fill="#8c8c8c" stroke="#5a5a5a" stroke-width="0.6"/>
<line x1="374.50" y1="268.30" x2="374.50" y2="273.40" stroke="#999" stroke-width="0.75"/>
<line x1="373.50" y1="268.30" x2="375.50" y2="268.30" stroke="#999" stroke-width="0.5"/>
<rect x="371.76" y="273.60" width="5.50" height="20.20" fill="url(#h)" stroke="#111" stroke-width="0.4"/>
<line x1="348.00" y1="295.60" x2="348.00" y2="302.20" stroke="#07140a" stroke-width="1.0"/>
<text x="357.06" y="304.90" font-size="6.0" font-weight="normal" font-style="normal" text-anchor="start" fill="#07140a" textLength="14.60" lengthAdjust="spacingAndGlyphs" stroke="#07140a" stroke-width="0.18">LMO2</text>
<rect x="384.79" y="279.65" width="4.40" height="14.15" fill="#fff" stroke="#9a9a9a" stroke-width="0.7"/>
<line x1="392.50" y1="270.60" x2="392.50" y2="277.00" stroke="#999" stroke-width="0.75"/>
<line x1="391.50" y1="270.60" x2="393.50" y2="270.60" stroke="#999" stroke-width="0.5"/>
<rect x="389.54" y="277.00" width="5.40" height="16.80" fill="#000"/>
<rect x="400.14" y="279.60" width="4.30" height="14.20" fill="#8c8c8c" stroke="#5a5a5a" stroke-width="0.6"/>
<line x1="407.50" y1="260.20" x2="407.50" y2="268.80" stroke="#999" stroke-width="0.75"/>
<line x1="406.50" y1="260.20" x2="408.50" y2="260.20" stroke="#999" stroke-width="0.5"/>
<rect x="404.94" y="269.00" width="5.50" height="24.80" fill="url(#h)" stroke="#111" stroke-width="0.4"/>
<line x1="381.10" y1="295.60" x2="381.10" y2="302.20" stroke="#07140a" stroke-width="1.0"/>
<text x="389.34" y="304.90" font-size="6.0" font-weight="normal" font-style="normal" text-anchor="start" fill="#07140a" textLength="16.40" lengthAdjust="spacingAndGlyphs" stroke="#07140a" stroke-width="0.18">GATA1</text>
<rect x="417.97" y="279.65" width="4.40" height="14.15" fill="#fff" stroke="#9a9a9a" stroke-width="0.7"/>
<line x1="425.50" y1="278.70" x2="425.50" y2="281.70" stroke="#999" stroke-width="0.75"/>
<line x1="424.50" y1="278.70" x2="426.50" y2="278.70" stroke="#999" stroke-width="0.5"/>
<rect x="422.72" y="281.70" width="5.40" height="12.10" fill="#000"/>
<rect x="433.32" y="279.60" width="4.30" height="14.20" fill="#8c8c8c" stroke="#5a5a5a" stroke-width="0.6"/>
<line x1="440.50" y1="264.80" x2="440.50" y2="268.80" stroke="#999" stroke-width="0.75"/>
<line x1="439.50" y1="264.80" x2="441.50" y2="264.80" stroke="#999" stroke-width="0.5"/>
<rect x="438.12" y="269.00" width="5.50" height="24.80" fill="url(#h)" stroke="#111" stroke-width="0.4"/>
<line x1="414.20" y1="295.60" x2="414.20" y2="302.20" stroke="#07140a" stroke-width="1.0"/>
<text x="422.52" y="304.90" font-size="6.0" font-weight="normal" font-style="normal" text-anchor="start" fill="#07140a" textLength="16.40" lengthAdjust="spacingAndGlyphs" stroke="#07140a" stroke-width="0.18">GATA2</text>
<rect x="451.15" y="279.65" width="4.40" height="14.15" fill="#fff" stroke="#9a9a9a" stroke-width="0.7"/>
<rect x="455.90" y="278.00" width="5.40" height="15.80" fill="#000"/>
<rect x="466.50" y="279.60" width="4.30" height="14.20" fill="#8c8c8c" stroke="#5a5a5a" stroke-width="0.6"/>
<line x1="474.50" y1="277.50" x2="474.50" y2="280.30" stroke="#999" stroke-width="0.75"/>
<line x1="473.50" y1="277.50" x2="475.50" y2="277.50" stroke="#999" stroke-width="0.5"/>
<rect x="471.30" y="280.50" width="5.50" height="13.30" fill="url(#h)" stroke="#111" stroke-width="0.4"/>
<line x1="447.30" y1="295.60" x2="447.30" y2="302.20" stroke="#07140a" stroke-width="1.0"/>
<text x="455.70" y="304.90" font-size="6.0" font-weight="normal" font-style="normal" text-anchor="start" fill="#07140a" textLength="16.40" lengthAdjust="spacingAndGlyphs" stroke="#07140a" stroke-width="0.18">GATA3</text>
<rect x="499.68" y="279.60" width="4.30" height="14.20" fill="#8c8c8c" stroke="#5a5a5a" stroke-width="0.6"/>
<rect x="504.48" y="276.60" width="5.50" height="17.20" fill="url(#h)" stroke="#111" stroke-width="0.4"/>
<line x1="480.40" y1="295.60" x2="480.40" y2="302.20" stroke="#07140a" stroke-width="1.0"/>
<text x="491.08" y="304.90" font-size="6.0" font-weight="normal" font-style="normal" text-anchor="start" fill="#07140a" textLength="12.00" lengthAdjust="spacingAndGlyphs" stroke="#07140a" stroke-width="0.18">PU.1</text>
<text x="483.60" y="187.00" font-size="8.4" font-weight="normal" font-style="italic" text-anchor="start" fill="#000" textLength="21.40" lengthAdjust="spacingAndGlyphs">iCdx4</text>
<line x1="281.00" y1="175.10" x2="513.60" y2="175.10" stroke="#111" stroke-width="1.0"/>
<line x1="513.20" y1="175.10" x2="513.20" y2="293.80" stroke="#111" stroke-width="1.0"/>
<line x1="281.00" y1="174.60" x2="281.00" y2="294.60" stroke="#000" stroke-width="1.5"/>
<line x1="280.25" y1="293.80" x2="513.70" y2="293.80" stroke="#000" stroke-width="1.6"/>
<path d="M40.70 187.30 V187.30 Q40.70 184.90 43.10 184.90 H45.40 Q47.80 184.90 47.80 187.30 V187.30" fill="none" stroke="#101010" stroke-width="1.0" stroke-linecap="round"/>
<text x="45.00" y="183.60" font-size="4.8" font-weight="normal" font-style="italic" text-anchor="middle" fill="#07140a" stroke="#07140a" stroke-width="0.15">.02</text>
<path d="M24.70 266.00 V265.50 Q24.70 263.00 27.20 263.00 H31.10 Q33.60 263.00 33.60 265.50 V266.00" fill="none" stroke="#101010" stroke-width="1.1" stroke-linecap="round"/>
<text x="30.20" y="259.40" font-size="4.9" font-weight="normal" font-style="normal" text-anchor="middle" fill="#07140a" stroke="#07140a" stroke-width="0.15">.01</text>
<text x="189.70" y="208.10" font-size="4.9" font-weight="normal" font-style="normal" text-anchor="middle" fill="#07140a" stroke="#07140a" stroke-width="0.15">.02</text>
<path d="M318.20 268.90 V268.90 Q318.20 266.40 320.70 266.40 H325.10 Q327.60 266.40 327.60 268.90 V268.90" fill="none" stroke="#101010" stroke-width="1.0" stroke-linecap="round"/>
<text x="324.80" y="264.30" font-size="4.9" font-weight="normal" font-style="normal" text-anchor="middle" fill="#07140a" stroke="#07140a" stroke-width="0.15">.05</text>
<path d="M450.20 274.10 V273.80 Q450.20 271.30 452.70 271.30 H456.30 Q458.80 271.30 458.80 273.80 V274.10" fill="none" stroke="#101010" stroke-width="1.0" stroke-linecap="round"/>
<text x="455.80" y="269.30" font-size="4.9" font-weight="normal" font-style="normal" text-anchor="middle" fill="#07140a" stroke="#07140a" stroke-width="0.15">.07</text>
<text x="484.50" y="291.30" font-size="5.0" font-weight="normal" font-style="normal" text-anchor="start" fill="#07140a" textLength="8.50" lengthAdjust="spacingAndGlyphs">ND</text>
<line x1="37.70" y1="1.90" x2="246.50" y2="1.90" stroke="#111" stroke-width="1.0"/>
<line x1="246.10" y1="1.90" x2="246.10" y2="112.10" stroke="#111" stroke-width="1.0"/>
<line x1="37.70" y1="1.40" x2="37.70" y2="112.90" stroke="#000" stroke-width="1.5"/>
<line x1="36.95" y1="112.10" x2="246.60" y2="112.10" stroke="#000" stroke-width="1.6"/>
<line x1="285.00" y1="1.90" x2="493.90" y2="1.90" stroke="#111" stroke-width="1.0"/>
<line x1="493.50" y1="1.90" x2="493.50" y2="111.30" stroke="#111" stroke-width="1.0"/>
<line x1="285.00" y1="1.40" x2="285.00" y2="112.10" stroke="#000" stroke-width="1.5"/>
<line x1="284.25" y1="111.30" x2="494.00" y2="111.30" stroke="#000" stroke-width="1.6"/>
</svg>
</body></html>
